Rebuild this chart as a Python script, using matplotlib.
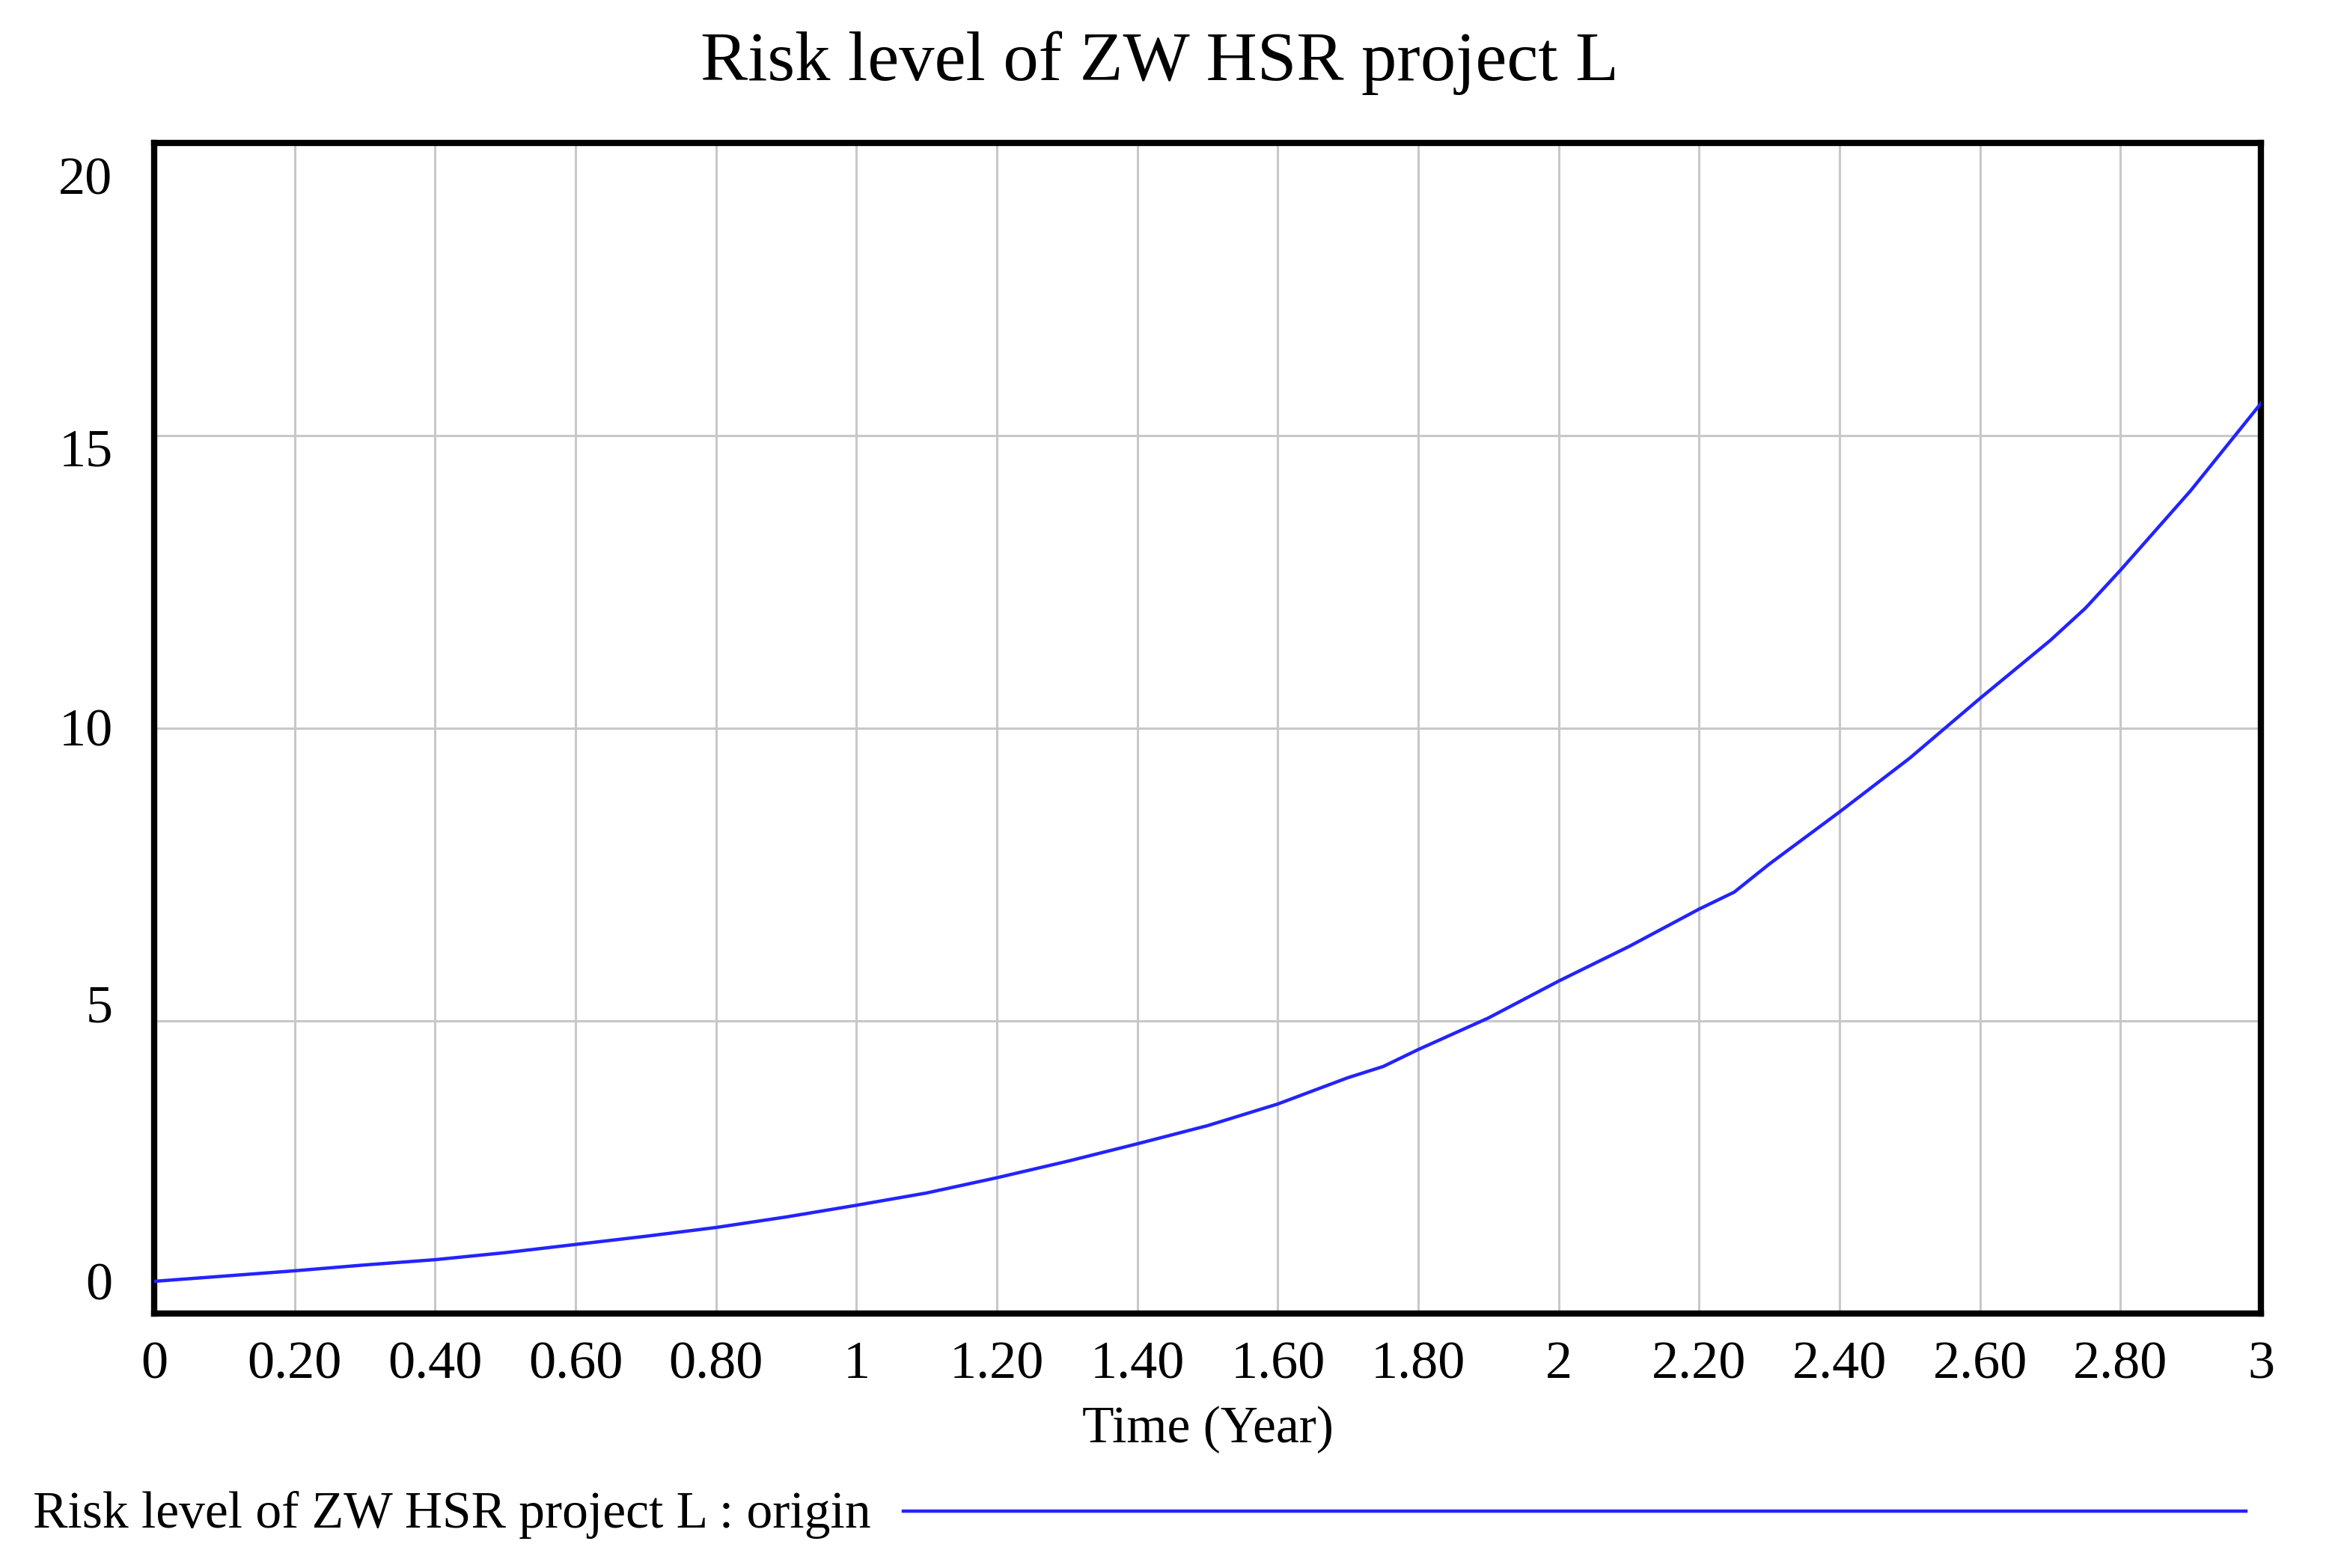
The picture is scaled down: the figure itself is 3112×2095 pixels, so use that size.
import matplotlib
matplotlib.use("Agg")
import matplotlib.pyplot as plt
from matplotlib.lines import Line2D

plt.rcParams["font.family"] = ["Liberation Serif", "DejaVu Serif"]

# simulated risk level
time_years = [0.0, 0.1, 0.2, 0.3, 0.4, 0.5, 0.6, 0.7, 0.8, 0.9, 1.0,
              1.1, 1.2, 1.3, 1.4, 1.5, 1.6, 1.7, 1.75, 1.8, 1.9, 2.0,
              2.1, 2.2, 2.25, 2.3, 2.4, 2.5, 2.6, 2.7, 2.75, 2.8, 2.9, 3.0]
risk_level = [0.55, 0.64, 0.73, 0.83, 0.92, 1.04, 1.18, 1.32, 1.47, 1.65, 1.85,
              2.06, 2.32, 2.60, 2.90, 3.21, 3.58, 4.03, 4.22, 4.51, 5.05, 5.68,
              6.27, 6.91, 7.20, 7.68, 8.57, 9.49, 10.51, 11.50, 12.05, 12.70, 14.06, 15.55]

x_ticks = [0, 0.2, 0.4, 0.6, 0.8, 1.0, 1.2, 1.4, 1.6, 1.8, 2.0, 2.2, 2.4, 2.6, 2.8, 3.0]
x_tick_labels = ["0", "0.20", "0.40", "0.60", "0.80", "1", "1.20", "1.40", "1.60",
                 "1.80", "2", "2.20", "2.40", "2.60", "2.80", "3"]
y_grid = [0, 5, 10, 15, 20]
y_tick_labels = ["0", "5", "10", "15", "20"]
# Vensim pulls the outer y labels inwards a bit
y_label_pos = [0.56, 5.3, 10.02, 14.8, 19.44]

title = "Risk level of ZW HSR project L"
series_name = "Risk level of ZW HSR project L : origin"

W, H = 3112, 2095
fig = plt.figure(figsize=(W / 100, H / 100), dpi=100)
ax = fig.add_axes([206 / W, 1 - 1755 / H, (3021 - 206) / W, (1755 - 191) / H])

ax.plot(time_years, risk_level, color="#2323ff", lw=3.2, zorder=3)

ax.set_xlim(0, 3)
ax.set_ylim(0, 20)
ax.set_xticks(x_ticks)
ax.set_xticklabels(x_tick_labels)
ax.set_yticks(y_grid)
ax.set_yticklabels([])
ax.set_yticks(y_label_pos, minor=True)
ax.set_yticklabels(y_tick_labels, minor=True)

ax.grid(True, color="#c8c8c8", lw=2.2)
ax.tick_params(axis="x", length=0, pad=26, labelsize=52)
ax.tick_params(axis="y", which="both", length=0, pad=40, labelsize=52)
for s in ax.spines.values():
    s.set_linewidth(6)
    s.set_color("black")

ax.set_xlabel("Time (Year)", fontsize=50, labelpad=16)

fig.text(0.498, 0.960, title, ha="center", va="center", fontsize=68)

# Vensim-style legend below the plot
fig.text(44 / W, 1 - 2024 / H, series_name, ha="left", va="center", fontsize=50)
fig.add_artist(Line2D([1207 / W, 3001 / W], [1 - 2019 / H, 1 - 2019 / H],
                      transform=fig.transFigure, color="#2323ff", lw=3.2))

fig.savefig("out.png", dpi=100)
